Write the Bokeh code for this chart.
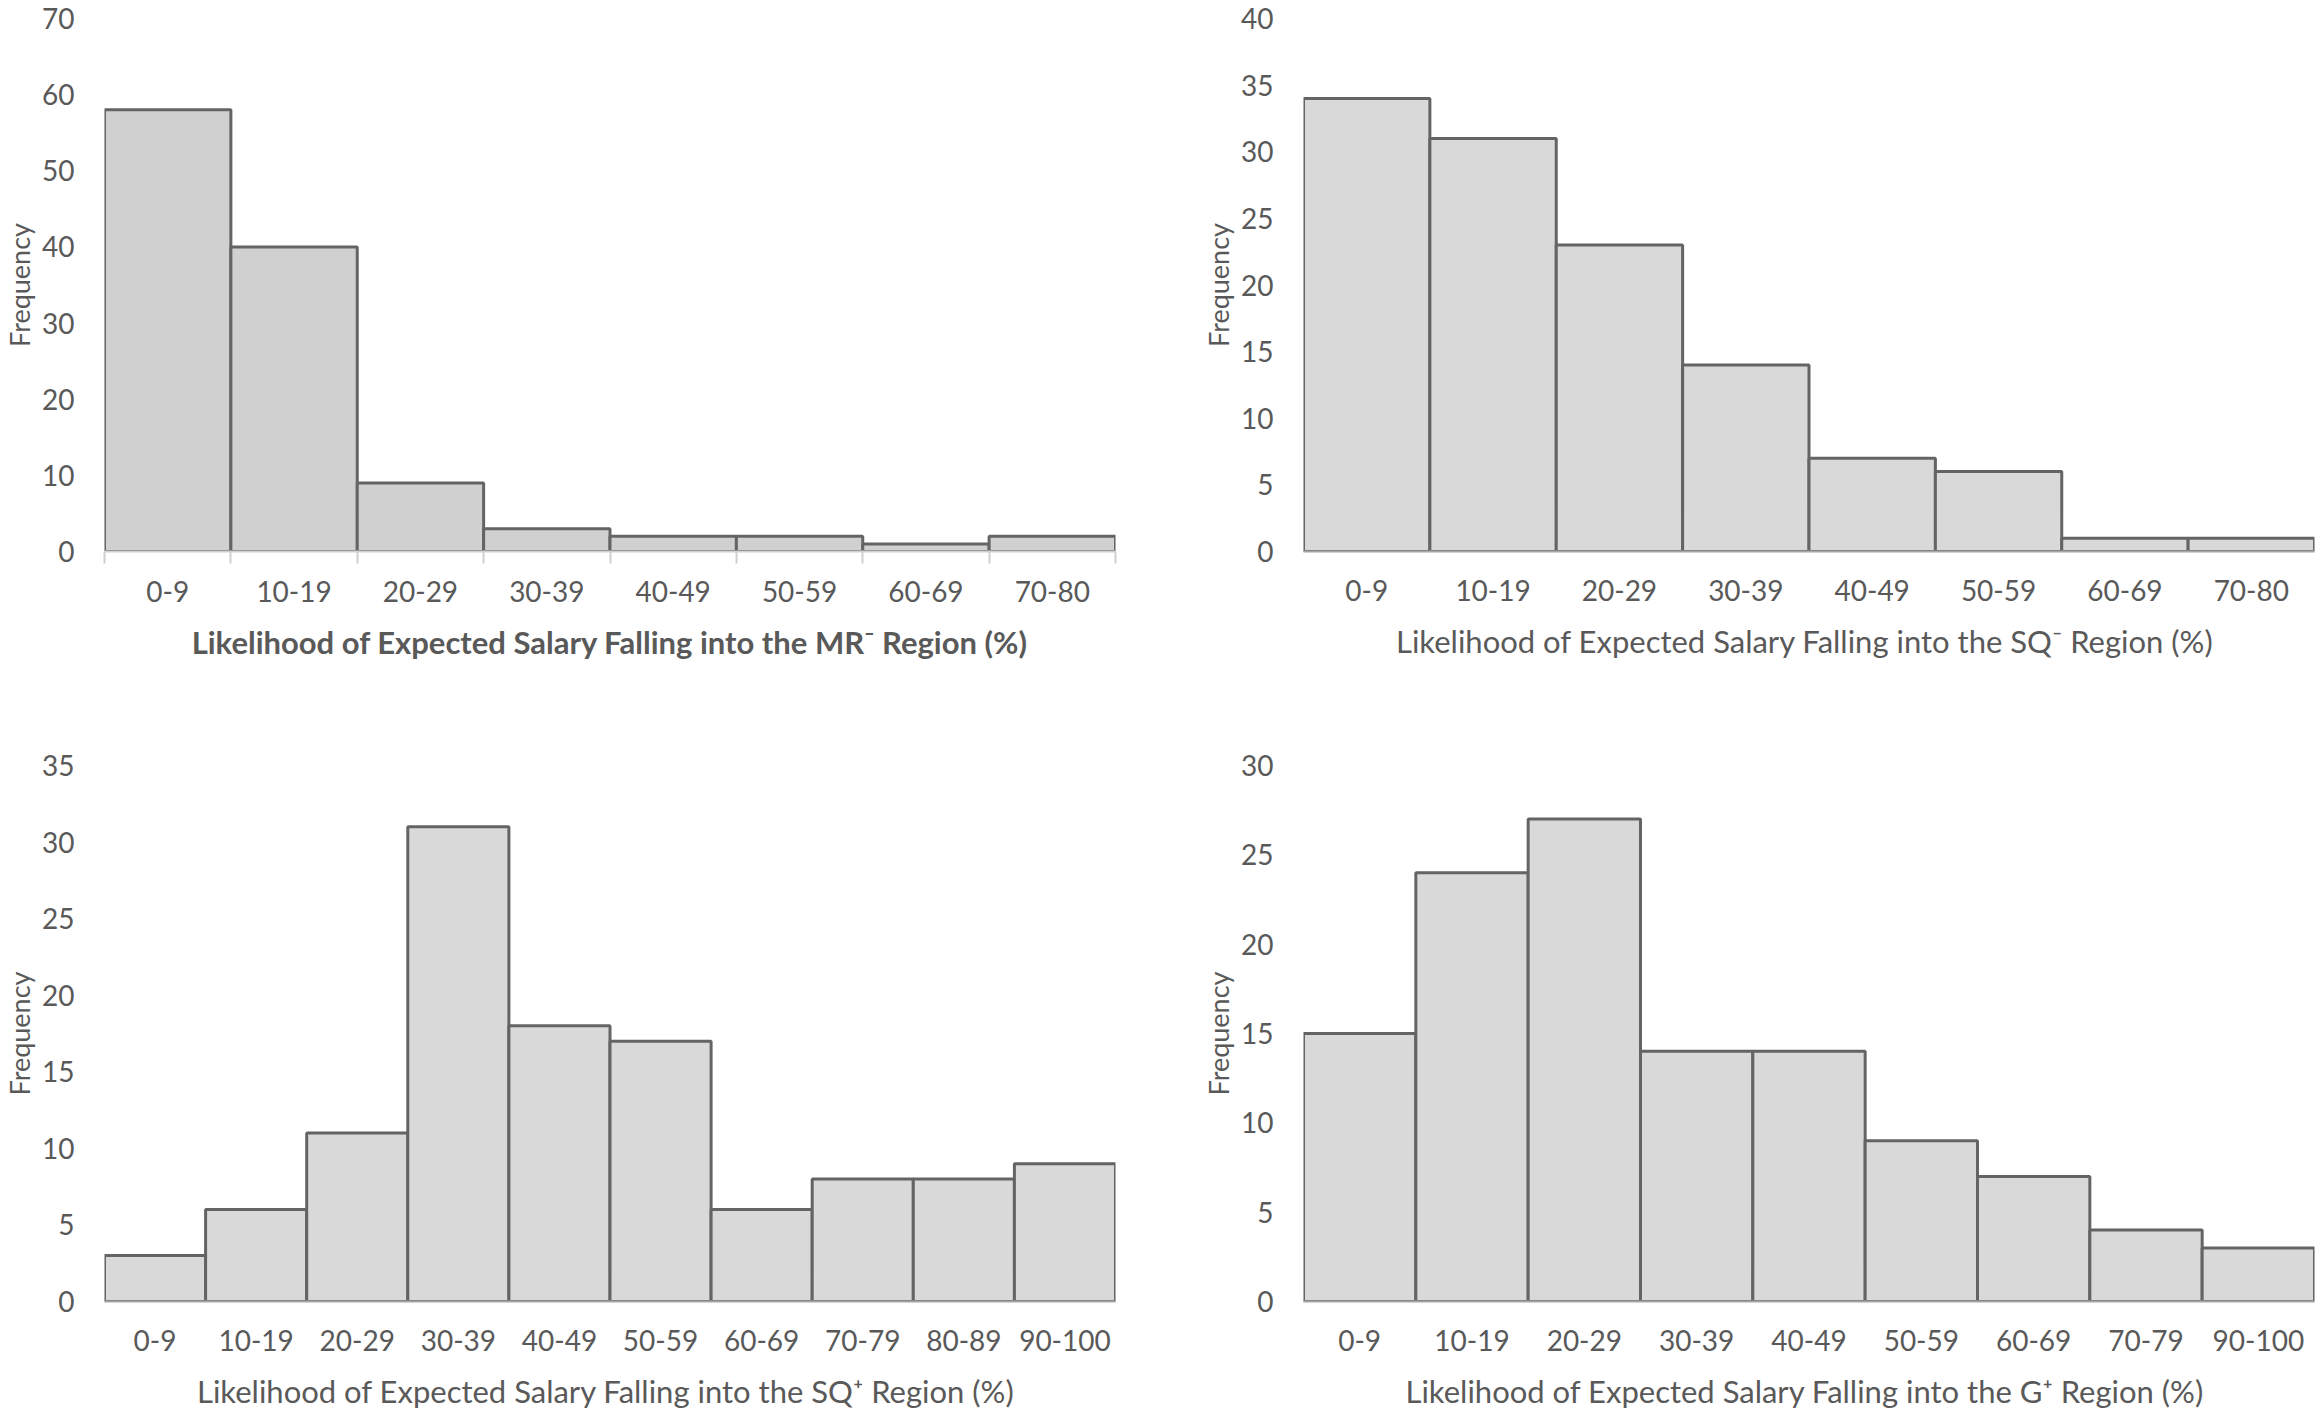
from bokeh.plotting import figure
from bokeh.layouts import gridplot
from bokeh.models import FixedTicker, Range1d
from bokeh.embed import file_html
from bokeh.resources import INLINE

FONT = "Lato"

# ---- data ----
mr_labels = ["0-9", "10-19", "20-29", "30-39", "40-49", "50-59", "60-69", "70-80"]
mr_counts = [58, 40, 9, 3, 2, 2, 1, 2]

sqm_labels = ["0-9", "10-19", "20-29", "30-39", "40-49", "50-59", "60-69", "70-80"]
sqm_counts = [34, 31, 23, 14, 7, 6, 1, 1]

sqp_labels = ["0-9", "10-19", "20-29", "30-39", "40-49", "50-59", "60-69", "70-79", "80-89", "90-100"]
sqp_counts = [3, 6, 11, 31, 18, 17, 6, 8, 8, 9]

gp_labels = ["0-9", "10-19", "20-29", "30-39", "40-49", "50-59", "60-69", "70-79", "90-100"]
gp_counts = [15, 24, 27, 14, 14, 9, 7, 4, 3]

titles = [
    "Likelihood of Expected Salary Falling into the MR\u207b Region (%)",
    "Likelihood of Expected  Salary Falling into the SQ\u207b Region (%)",
    "Likelihood of Expected  Salary Falling into the SQ\u207a Region (%)",
    "Likelihood of Expected  Salary Falling into the G\u207a Region (%)",
]
ymax = [70, 40, 35, 30]
ystep = [10, 5, 5, 5]


def make(labels, counts, title, ym, step, width, height, bl, br, bt, bb,
         fill, bold=False, minor=False, axis_color="#bfbfbf"):
    n = len(labels)
    p = figure(width=width, height=height, output_backend="svg", toolbar_location=None,
               x_range=Range1d(0, n), y_range=Range1d(0, ym),
               min_border_left=bl, min_border_right=br, min_border_top=bt, min_border_bottom=bb)
    p.outline_line_color = None
    p.xgrid.visible = False
    p.ygrid.visible = False
    centers = [i + 0.5 for i in range(n)]
    p.vbar(x=centers, top=counts, width=1.0, bottom=0, fill_color=fill,
           line_color="#646464", line_width=3)

    xa = p.xaxis[0]
    xa.ticker = FixedTicker(ticks=centers, minor_ticks=list(range(n + 1)) if minor else [])
    xa.major_label_overrides = {c: l for c, l in zip(centers, labels)}
    xa.major_tick_line_color = None
    xa.major_tick_out = 0
    xa.major_tick_in = 0
    xa.minor_tick_out = 12
    xa.minor_tick_in = 0
    xa.minor_tick_line_color = "#d0d0d0"
    xa.minor_tick_line_width = 2
    xa.axis_line_color = axis_color
    xa.axis_line_width = 2
    xa.major_label_text_font = FONT
    xa.major_label_text_font_size = "28px"
    xa.major_label_text_color = "#595959"
    xa.major_label_standoff = 17 if minor else 28
    xa.axis_label = title
    xa.axis_label_text_font = FONT
    xa.axis_label_text_font_size = "31px"
    xa.axis_label_text_color = "#595959"
    xa.axis_label_text_font_style = "bold" if bold else "normal"
    xa.axis_label_standoff = 18

    ya = p.yaxis[0]
    ya.ticker = FixedTicker(ticks=list(range(0, ym + 1, step)))
    ya.axis_line_color = None
    ya.major_tick_line_color = None
    ya.minor_tick_line_color = None
    ya.major_label_text_font = FONT
    ya.major_label_text_font_size = "28px"
    ya.major_label_text_color = "#595959"
    ya.major_label_standoff = 24
    ya.axis_label = "Frequency"
    ya.axis_label_text_font = FONT
    ya.axis_label_text_font_size = "27px"
    ya.axis_label_text_color = "#595959"
    ya.axis_label_text_font_style = "normal"
    ya.axis_label_standoff = 3
    return p


W_L, W_R, H_T, H_B = 1160, 1158, 700, 712

p1 = make(mr_labels, mr_counts, titles[0], ymax[0], ystep[0], W_L, H_T,
          104, 45, 18, 149, "#d0d0d0", bold=True, minor=True, axis_color="#d0d0d0")
p2 = make(sqm_labels, sqm_counts, titles[1], ymax[1], ystep[1], W_R, H_T,
          143, 4, 18, 149, "#d9d9d9", axis_color="#a6a6a6")
p3 = make(sqp_labels, sqp_counts, titles[2], ymax[2], ystep[2], W_L, H_B,
          104, 45, 65, 111, "#d9d9d9", axis_color="#a6a6a6")
p4 = make(gp_labels, gp_counts, titles[3], ymax[3], ystep[3], W_R, H_B,
          143, 4, 65, 111, "#d9d9d9", axis_color="#a6a6a6")

grid = gridplot([[p1, p2], [p3, p4]], toolbar_location=None)

open("out.html", "w").write(file_html(grid, INLINE))
